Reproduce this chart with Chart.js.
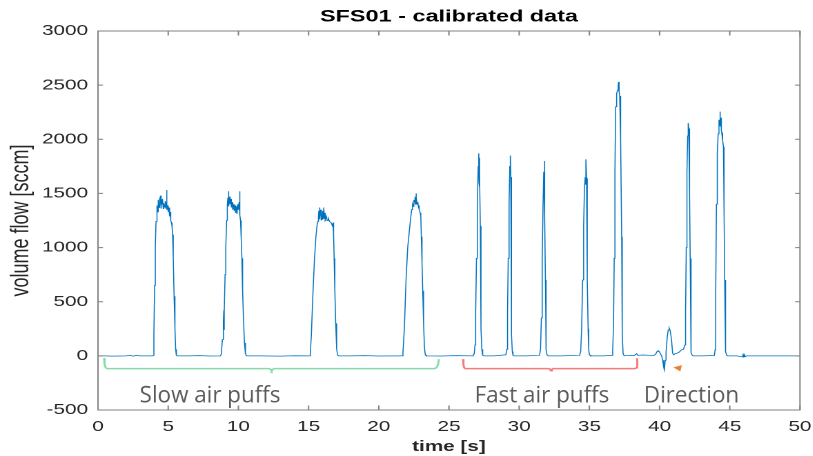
<!DOCTYPE html>
<html>
<head>
<meta charset="utf-8">
<title>SFS01 - calibrated data</title>
<script src="https://cdn.jsdelivr.net/npm/chart.js@4.4.1/dist/chart.umd.min.js"></script>
<style>
  html, body { margin: 0; padding: 0; background: #fff; overflow: hidden; }
  #wrap { position: absolute; left: 0; top: 0; height: 456px; transform-origin: 0 0; }
</style>
</head>
<body>
<div id="wrap"><canvas id="flowChart"></canvas></div>
<script>
// the original figure was stretched sideways after export, the labels on top were not
const STRETCH = 1.38;

// --- data: [time s, flow sccm] ---
const baseStart = [[0, 0], [0.4, 0], [1.0, -2], [2.0, 0], [2.3, 6], [2.5, -3], [2.7, 4], [3.0, 0], [3.9, 0]];
const slowPuff1 = [[3.94, 5], [3.98, 200], [4.03, 650], [4.08, 1000], [4.13, 1240], [4.18, 1330], [4.22, 1390],
    [4.25, 1330], [4.29, 1440], [4.33, 1370], [4.37, 1460], [4.41, 1390], [4.45, 1480], [4.49, 1360], [4.53, 1430],
    [4.57, 1400], [4.61, 1450], [4.65, 1360], [4.69, 1410], [4.73, 1380], [4.77, 1430], [4.81, 1370], [4.85, 1420],
    [4.89, 1530], [4.91, 1350], [4.95, 1390], [5.0, 1330], [5.05, 1370], [5.1, 1290], [5.14, 1330], [5.18, 1250],
    [5.23, 1230], [5.27, 1200], [5.31, 1120], [5.36, 900], [5.42, 550], [5.48, 250], [5.53, 60], [5.58, 5], [5.65, 0]];
const baseA = [[6.5, 0], [7.2, 2], [8.0, -1], [8.72, 0]];
const slowPuff2 = [[8.78, 15], [8.86, 150], [8.93, 320], [8.96, 420], [8.98, 240], [9.0, 400], [9.05, 750],
    [9.1, 1000], [9.16, 1250], [9.21, 1390], [9.25, 1460], [9.28, 1400], [9.31, 1520], [9.33, 1380], [9.37, 1470],
    [9.41, 1400], [9.45, 1450], [9.5, 1370], [9.55, 1420], [9.6, 1350], [9.65, 1400], [9.7, 1340], [9.75, 1390],
    [9.8, 1320], [9.85, 1380], [9.9, 1310], [9.95, 1400], [10.0, 1350], [10.05, 1420], [10.09, 1520], [10.11, 1300],
    [10.15, 1250], [10.2, 1080], [10.25, 900], [10.3, 600], [10.36, 350], [10.43, 120], [10.5, 20], [10.58, 0]];
const baseB = [[11.5, 0], [13.0, -2], [14.0, 1], [15.05, 0]];
const slowPuff3 = [[15.12, 20], [15.2, 200], [15.3, 550], [15.42, 900], [15.52, 1100], [15.6, 1200], [15.65, 1240],
    [15.7, 1280], [15.73, 1340], [15.76, 1260], [15.79, 1370], [15.82, 1290], [15.85, 1350], [15.88, 1250],
    [15.92, 1330], [15.96, 1260], [16.0, 1340], [16.04, 1270], [16.08, 1370], [16.12, 1280], [16.16, 1320],
    [16.2, 1260], [16.26, 1290], [16.32, 1250], [16.4, 1270], [16.5, 1240], [16.6, 1230], [16.7, 1200],
    [16.74, 1230], [16.78, 1120], [16.82, 900], [16.87, 600], [16.93, 300], [17.0, 60], [17.07, 5], [17.15, 0]];
const baseC = [[18.0, 0], [19.0, 2], [20.0, -1], [21.65, 0]];
const slowPuff4 = [[21.72, 30], [21.82, 250], [21.94, 700], [22.06, 1000], [22.18, 1160], [22.26, 1260],
    [22.34, 1350], [22.4, 1400], [22.45, 1380], [22.5, 1440], [22.54, 1420], [22.58, 1470], [22.61, 1400],
    [22.63, 1500], [22.66, 1430], [22.7, 1460], [22.74, 1400], [22.78, 1420], [22.82, 1380], [22.86, 1390],
    [22.9, 1350], [22.95, 1320], [22.99, 1290], [23.03, 1100], [23.08, 850], [23.13, 600], [23.19, 300],
    [23.25, 80], [23.31, 10], [23.38, 0]];
const baseD = [[24.5, -1], [25.5, 2], [26.72, 0]];
const fastPuff1 = [[26.8, 20], [26.85, 100], [26.9, 400], [26.96, 900], [27.02, 1400], [27.08, 1750], [27.12, 1870],
    [27.14, 1600], [27.16, 1830], [27.18, 1560], [27.2, 1650], [27.23, 1200], [27.26, 700], [27.3, 250],
    [27.34, 60], [27.4, 5], [27.48, 0]];
const fastPuff2 = [[28.2, 0], [29.05, 10], [29.12, 60], [29.17, 400], [29.22, 900], [29.28, 1400], [29.33, 1750],
    [29.37, 1850], [29.4, 1650], [29.42, 1200], [29.45, 600], [29.48, 200], [29.51, 40], [29.56, 5], [29.65, 0]];
const fastPuff3 = [[30.5, 0], [31.45, 5], [31.52, 60], [31.58, 350], [31.64, 900], [31.7, 1400], [31.75, 1700],
    [31.79, 1800], [31.81, 1700], [31.84, 1300], [31.87, 700], [31.9, 250], [31.93, 60], [31.98, 10], [32.06, 0]];
const fastPuff4 = [[33.0, 0], [34.3, 5], [34.38, 40], [34.45, 250], [34.52, 700], [34.59, 1200], [34.65, 1550],
    [34.7, 1650], [34.72, 1580], [34.74, 1720], [34.76, 1610], [34.78, 1815], [34.8, 1640], [34.83, 1300],
    [34.87, 700], [34.91, 250], [34.95, 60], [35.0, 10], [35.08, 0]];
const fastPuff5 = [[36.0, 0], [36.6, 5], [36.66, 40], [36.72, 300], [36.77, 900], [36.82, 1700], [36.87, 2300],
    [36.94, 2420], [37.0, 2450], [37.05, 2500], [37.09, 2530], [37.12, 2440], [37.16, 2400], [37.2, 2250],
    [37.25, 2000], [37.3, 1100], [37.34, 200], [37.4, 20], [37.48, 0]];
const directionPart = [[37.8, 5], [38.2, 3], [38.36, 20], [38.45, 5], [38.8, 8], [39.2, 6], [39.6, 5], [39.72, 15],
    [39.82, 40], [39.9, 48], [39.98, 40], [40.05, 20], [40.15, 0], [40.22, -40], [40.3, -110], [40.34, -130],
    [40.4, -40], [40.46, 30], [40.55, 180], [40.62, 240], [40.69, 255], [40.76, 230], [40.85, 150], [40.93, 25],
    [41.0, 10], [41.1, 20], [41.25, 25], [41.4, 35], [41.55, 55], [41.7, 60], [41.8, 100]];
const dirPuff1 = [[41.85, 400], [41.9, 1000], [41.95, 1700], [42.0, 2030], [42.03, 2120], [42.05, 2150],
    [42.08, 2100], [42.12, 1950], [42.15, 1500], [42.18, 900], [42.22, 200], [42.26, 30], [42.32, 5], [42.4, 0]];
const dirPuff2 = [[43.0, 0], [43.9, 3], [43.96, 60], [44.0, 600], [44.05, 1400], [44.11, 1870], [44.17, 2050],
    [44.23, 2180], [44.27, 2150], [44.3, 2255], [44.33, 2120], [44.37, 2200], [44.4, 2080], [44.43, 2060],
    [44.47, 2000], [44.51, 1990], [44.55, 1930], [44.58, 1800], [44.61, 1300], [44.64, 700], [44.68, 180],
    [44.72, 40], [44.78, 5], [44.85, 0]];
const baseEnd = [[45.5, 0], [45.9, -10], [45.95, 12], [46.0, -15], [46.05, 10], [46.1, -8], [46.2, 0], [50, 0]];

// curly braces under the puff groups, and the little arrow
const slowBrace = [[0.43, -20], [0.47, -80], [0.55, -110], [0.65, -118], [12.2, -118], [12.3, -125], [12.37, -138],
    [12.44, -125], [12.54, -118], [23.95, -118], [24.1, -110], [24.22, -80], [24.28, -30]];
const fastBrace = [[26.0, -30], [26.03, -80], [26.08, -110], [26.18, -118], [32.1, -118], [32.2, -125], [32.26, -138],
    [32.32, -125], [32.42, -118], [38.25, -118], [38.35, -110], [38.4, -80], [38.42, -22]];
const arrowMark = [[41.35, -112]];

// labels under the braces: [text, centre time, flow at baseline]
const groupLabels = [["Slow air puffs", 7.98, -432], ["Fast air puffs", 31.62, -432], ["Direction", 42.27, -432]];

const xTicks = [0, 5, 10, 15, 20, 25, 30, 35, 40, 45, 50];
const yTicks = [-500, 0, 500, 1000, 1500, 2000, 2500, 3000];

const flowTrace = [].concat(baseStart, slowPuff1, baseA, slowPuff2, baseB, slowPuff3, baseC, slowPuff4, baseD,
    fastPuff1, fastPuff2, fastPuff3, fastPuff4, fastPuff5, directionPart, dirPuff1, dirPuff2, baseEnd);

const toPoints = (arr) => arr.map(([x, y]) => ({ x, y }));

const wrap = document.getElementById("wrap");
wrap.style.width = (813 / STRETCH) + "px";
wrap.style.transform = `scaleX(${STRETCH})`;

const axisColor = "#808080";
const labelColor = "#262626";

// MATLAB style box with inward ticks, plus the text under the braces
const boxPlugin = {
    id: "matlabBox",
    afterDraw(chart) {
        const { ctx, chartArea: a, scales: { x, y } } = chart;
        ctx.save();
        ctx.strokeStyle = axisColor;
        ctx.lineWidth = 1;
        ctx.strokeRect(a.left, a.top, a.right - a.left, a.bottom - a.top);
        ctx.beginPath();
        x.ticks.forEach((t) => {
            const px = x.getPixelForValue(t.value);
            ctx.moveTo(px, a.bottom); ctx.lineTo(px, a.bottom - 4.5);
            ctx.moveTo(px, a.top); ctx.lineTo(px, a.top + 4.5);
        });
        y.ticks.forEach((t) => {
            const py = y.getPixelForValue(t.value);
            ctx.moveTo(a.left, py); ctx.lineTo(a.left + 3.6, py);
            ctx.moveTo(a.right, py); ctx.lineTo(a.right - 3.6, py);
        });
        ctx.stroke();

        ctx.fillStyle = "#5a5a5a";
        ctx.font = "22.4px 'Open Sans'";
        ctx.textAlign = "center";
        ctx.textBaseline = "alphabetic";
        groupLabels.forEach(([text, t, v]) => {
            ctx.save();
            ctx.translate(x.getPixelForValue(t), y.getPixelForValue(v));
            ctx.scale(1 / STRETCH, 1);  // undo the page stretch for these
            ctx.fillText(text, 0, 0);
            ctx.restore();
        });
        ctx.restore();
    }
};

new Chart(document.getElementById("flowChart"), {
    type: "line",
    data: {
        datasets: [
            {
                data: toPoints(slowBrace),
                borderColor: "#86dca6",
                borderWidth: 1.5,
                pointRadius: 0,
            },
            {
                data: toPoints(fastBrace),
                borderColor: "#f47c7c",
                borderWidth: 1.5,
                pointRadius: 0,
            },
            {
                type: "scatter",
                data: toPoints(arrowMark),
                pointStyle: "triangle",
                rotation: 280,
                pointRadius: 3.8,
                backgroundColor: "#ef8030",
                borderColor: "#ef8030",
                borderWidth: 0,
            },
            {
                label: "volume flow",
                data: toPoints(flowTrace),
                borderColor: "#0072BD",
                borderWidth: 0.75,
                pointRadius: 0,
                tension: 0,
            },
        ],
    },
    options: {
        responsive: true,
        maintainAspectRatio: false,
        devicePixelRatio: 2,
        animation: false,
        events: [],
        layout: { padding: { left: 0, right: 13 / STRETCH, top: 0, bottom: 0 } },
        plugins: {
            legend: { display: false },
            tooltip: { enabled: false },
            title: {
                display: true,
                text: "SFS01 - calibrated data",
                fullSize: false,
                color: "#000",
                font: { family: "'Liberation Sans', Arial, sans-serif", size: 17, weight: "bold", lineHeight: 1.2 },
                padding: { top: 6.8, bottom: 3.8 },
            },
        },
        scales: {
            x: {
                type: "linear",
                min: 0,
                max: 50,
                afterBuildTicks: (scale) => { scale.ticks = xTicks.map((v) => ({ value: v })); },
                afterFit: (scale) => {
                    scale.height = 46;
                    // the end labels may hang over the box, MATLAB does not shrink for them
                    scale.paddingLeft = 0;
                    scale.paddingRight = 0;
                },
                grid: { display: false, drawTicks: false },
                border: { display: false },
                ticks: {
                    autoSkip: false,
                    maxRotation: 0,
                    padding: 7.7,
                    color: labelColor,
                    font: { family: "'Liberation Sans', Arial, sans-serif", size: 15 },
                    callback: (v) => String(v),
                },
                title: {
                    display: true,
                    text: "time [s]",
                    color: labelColor,
                    font: { family: "'Liberation Sans', Arial, sans-serif", size: 15, weight: "bold", lineHeight: 1 },
                    padding: { top: 0, bottom: 1.8 },
                },
            },
            y: {
                min: -500,
                max: 3000,
                afterBuildTicks: (scale) => { scale.ticks = yTicks.map((v) => ({ value: v })); },
                afterFit: (scale) => { scale.width = 98 / STRETCH; },
                grid: { display: false, drawTicks: false },
                border: { display: false },
                ticks: {
                    autoSkip: false,
                    padding: 7.2,
                    color: labelColor,
                    font: { family: "'Liberation Sans', Arial, sans-serif", size: 15 },
                    callback: (v) => String(v),
                },
                title: {
                    display: true,
                    text: "volume flow [sccm]",
                    color: labelColor,
                    font: { family: "'Liberation Sans', Arial, sans-serif", size: 18, lineHeight: 1 },
                    padding: { top: 6.6, bottom: 0 },
                },
            },
        },
    },
    plugins: [boxPlugin],
});
</script>
</body>
</html>
